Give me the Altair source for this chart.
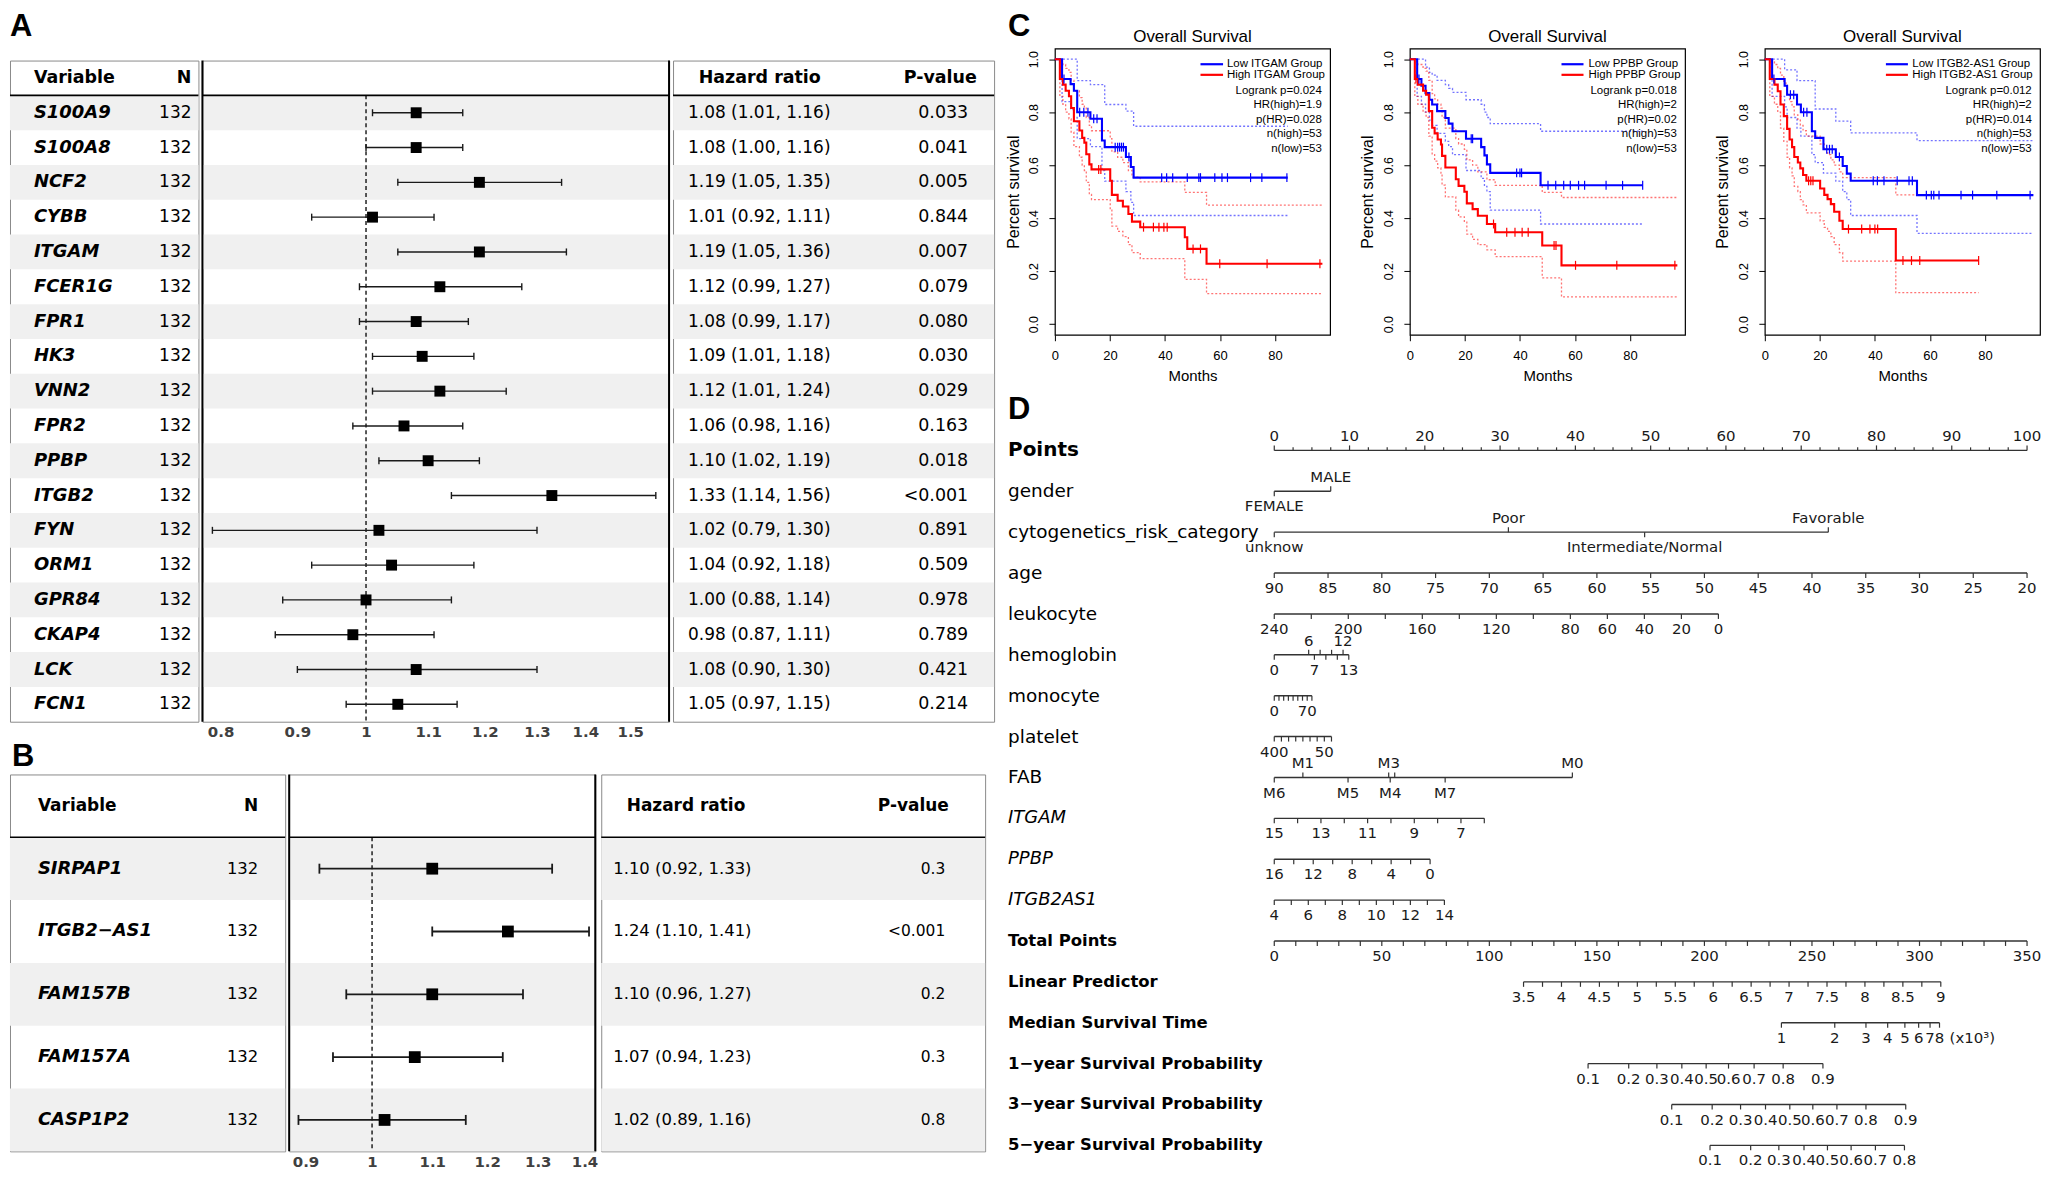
import altair as alt
import pandas as pd

FD = "DejaVu Sans"
FL = "Liberation Sans"

# ====================== Panel A : forest plot ======================
A_GENES = ["S100A9", "S100A8", "NCF2", "CYBB", "ITGAM", "FCER1G", "FPR1", "HK3", "VNN2",
           "FPR2", "PPBP", "ITGB2", "FYN", "ORM1", "GPR84", "CKAP4", "LCK", "FCN1"]
A_N = [132] * 18
A_HR = [1.08, 1.08, 1.19, 1.01, 1.19, 1.12, 1.08, 1.09, 1.12, 1.06, 1.10, 1.33, 1.02, 1.04, 1.00, 0.98, 1.08, 1.05]
A_LO = [1.01, 1.00, 1.05, 0.92, 1.05, 0.99, 0.99, 1.01, 1.01, 0.98, 1.02, 1.14, 0.79, 0.92, 0.88, 0.87, 0.90, 0.97]
A_HI = [1.16, 1.16, 1.35, 1.11, 1.36, 1.27, 1.17, 1.18, 1.24, 1.16, 1.19, 1.56, 1.30, 1.18, 1.14, 1.11, 1.30, 1.15]
A_P = ["0.033", "0.041", "0.005", "0.844", "0.007", "0.079", "0.080", "0.030", "0.029", "0.163",
       "0.018", "<0.001", "0.891", "0.509", "0.978", "0.789", "0.421", "0.214"]
A_TICKS = [0.8, 0.9, 1, 1.1, 1.2, 1.3, 1.4, 1.5]

# ====================== Panel B : forest plot ======================
B_GENES = ["SIRPAP1", "ITGB2\u2212AS1", "FAM157B", "FAM157A", "CASP1P2"]
B_N = [132] * 5
B_HR = [1.10, 1.24, 1.10, 1.07, 1.02]
B_LO = [0.92, 1.10, 0.96, 0.94, 0.89]
B_HI = [1.33, 1.41, 1.27, 1.23, 1.16]
B_P = ["0.3", "<0.001", "0.2", "0.3", "0.8"]
B_TICKS = [0.9, 1, 1.1, 1.2, 1.3, 1.4]

# ====================== Panel C : Kaplan-Meier ======================
# ITGAM
C1_LOW_T = [0, 2.6, 5.7, 6.9, 8.1, 12.9, 17.1, 18.1, 25.8, 27.6, 28.6, 84.6]
C1_LOW_S = [1.0, 0.925, 0.906, 0.881, 0.80, 0.775, 0.693, 0.668, 0.631, 0.593, 0.553, 0.553]
C1_LOW_U = [1.0, 1.0, 1.0, 1.0, 0.919, 0.904, 0.904, 0.829, 0.804, 0.804, 0.747, 0.747]
C1_LOW_L = [1.0, 0.84, 0.81, 0.78, 0.70, 0.67, 0.58, 0.54, 0.50, 0.46, 0.41, 0.41]
C1_LOW_C = [3.3, 9.0, 10.5, 12.0, 14.1, 15.3, 21.9, 22.8, 23.5, 24.2, 24.9, 26.9, 38.8, 40.6, 42.8,
            48.1, 52.3, 52.9, 58.1, 60.7, 62.7, 71.1, 75.2, 84.3]
C1_HIGH_T = [0, 1.8, 2.9, 3.9, 5.1, 5.9, 6.9, 8.9, 9.9, 10.7, 11.4, 12.5, 13.3, 20.1, 20.7, 22.8,
             24.7, 26.7, 28.0, 31.0, 47.2, 48.1, 55.1, 97.2]
C1_HIGH_S = [1.0, 0.925, 0.904, 0.881, 0.86, 0.816, 0.766, 0.731, 0.703, 0.685, 0.641, 0.603, 0.584,
             0.541, 0.488, 0.466, 0.444, 0.416, 0.387, 0.366, 0.328, 0.284, 0.228, 0.228]
C1_HIGH_U = [1.0, 0.99, 0.98, 0.965, 0.95, 0.92, 0.88, 0.855, 0.83, 0.815, 0.78, 0.75, 0.73, 0.70,
             0.65, 0.63, 0.61, 0.58, 0.555, 0.537, 0.497, 0.497, 0.449, 0.449]
C1_HIGH_L = [1.0, 0.86, 0.83, 0.80, 0.775, 0.725, 0.67, 0.63, 0.60, 0.58, 0.535, 0.49, 0.47, 0.43,
             0.37, 0.35, 0.33, 0.30, 0.27, 0.247, 0.169, 0.169, 0.115, 0.115]
C1_HIGH_C = [15.9, 16.7, 32.2, 35.8, 37.8, 39.6, 40.8, 50.2, 52.9, 59.9, 77.1, 96.3]

# PPBP
C2_LOW_T = [0, 2.65, 4.2, 5.7, 7.1, 8.1, 9.9, 12.9, 14.1, 15.5, 20.4, 25.9, 27.1, 28.0, 29.2, 47.5, 84.6]
C2_LOW_S = [1.0, 0.925, 0.90, 0.872, 0.847, 0.829, 0.804, 0.778, 0.757, 0.728, 0.70, 0.668, 0.637,
            0.603, 0.571, 0.524, 0.524]
C2_LOW_U = [1.0, 1.0, 1.0, 0.97, 0.95, 0.94, 0.92, 0.904, 0.89, 0.875, 0.847, 0.83, 0.80, 0.78,
            0.757, 0.728, 0.728]
C2_LOW_L = [1.0, 0.86, 0.83, 0.80, 0.77, 0.75, 0.72, 0.69, 0.67, 0.64, 0.58, 0.55, 0.52, 0.50,
            0.43, 0.378, 0.378]
C2_LOW_C = [3.3, 22.3, 22.8, 38.8, 40.0, 40.6, 50.2, 53.0, 55.9, 58.3, 61.3, 63.5, 71.3, 77.3, 84.6]
C2_HIGH_T = [0, 1.8, 2.9, 4.8, 5.9, 6.9, 8.1, 9.0, 10.1, 11.3, 11.7, 12.9, 16.7, 17.7, 19.8, 20.7,
             22.8, 24.7, 28.0, 31.0, 48.1, 55.1, 97.2]
C2_HIGH_S = [1.0, 0.925, 0.904, 0.881, 0.866, 0.804, 0.741, 0.72, 0.697, 0.678, 0.635, 0.591, 0.547,
             0.522, 0.50, 0.456, 0.434, 0.409, 0.378, 0.347, 0.297, 0.222, 0.222]
C2_HIGH_U = [1.0, 0.99, 0.98, 0.965, 0.955, 0.92, 0.87, 0.85, 0.83, 0.815, 0.78, 0.74, 0.70, 0.68,
             0.66, 0.62, 0.60, 0.575, 0.545, 0.524, 0.497, 0.478, 0.478]
C2_HIGH_L = [1.0, 0.86, 0.83, 0.80, 0.78, 0.71, 0.64, 0.615, 0.59, 0.57, 0.525, 0.48, 0.43, 0.405,
             0.385, 0.34, 0.32, 0.30, 0.28, 0.255, 0.175, 0.103, 0.103]
C2_HIGH_C = [2.2, 30.4, 35.2, 38.2, 40.8, 43.0, 52.4, 53.1, 60.2, 75.2, 96.3]

# ITGB2-AS1
C3_LOW_T = [0, 2.65, 7.2, 8.1, 11.7, 13.1, 17.1, 18.3, 21.3, 25.8, 28.3, 29.8, 31.2, 55.3, 97.6]
C3_LOW_S = [1.0, 0.925, 0.90, 0.866, 0.829, 0.80, 0.728, 0.703, 0.66, 0.631, 0.597, 0.568, 0.541, 0.487, 0.487]
C3_LOW_U = [1.0, 1.0, 0.96, 0.96, 0.919, 0.919, 0.919, 0.812, 0.812, 0.766, 0.766, 0.766, 0.722, 0.693, 0.693]
C3_LOW_L = [1.0, 0.86, 0.82, 0.78, 0.74, 0.71, 0.64, 0.61, 0.57, 0.54, 0.50, 0.47, 0.41, 0.343, 0.343]
C3_LOW_C = [3.3, 9.3, 10.5, 14.1, 15.3, 22.5, 23.5, 24.5, 27.1, 39.4, 40.9, 43.3, 48.1, 52.4, 53.6,
            58.7, 60.5, 61.4, 63.3, 71.3, 75.5, 84.3, 96.4]
C3_HIGH_T = [0, 1.8, 3.5, 4.7, 5.7, 6.9, 8.1, 9.0, 9.9, 10.7, 12.0, 12.9, 13.9, 15.1, 20.1, 21.6,
             22.8, 24.0, 25.2, 27.1, 28.3, 47.6, 77.7]
C3_HIGH_S = [1.0, 0.925, 0.904, 0.879, 0.829, 0.785, 0.737, 0.697, 0.668, 0.631, 0.61, 0.588, 0.563,
             0.541, 0.512, 0.488, 0.472, 0.453, 0.424, 0.39, 0.359, 0.24, 0.24]
C3_HIGH_U = [1.0, 0.99, 0.98, 0.965, 0.94, 0.91, 0.87, 0.84, 0.82, 0.79, 0.77, 0.75, 0.73, 0.71,
             0.68, 0.66, 0.64, 0.62, 0.60, 0.575, 0.553, 0.488, 0.488]
C3_HIGH_L = [1.0, 0.86, 0.83, 0.80, 0.74, 0.69, 0.63, 0.59, 0.56, 0.52, 0.50, 0.47, 0.45, 0.42,
             0.39, 0.365, 0.35, 0.33, 0.30, 0.27, 0.238, 0.119, 0.119]
C3_HIGH_C = [15.9, 16.7, 17.5, 30.4, 35.2, 38.2, 40.0, 41.0, 50.2, 53.3, 56.3, 77.7]

KM_LABELS = [["Low ITGAM Group", "High ITGAM Group"],
             ["Low PPBP Group", "High PPBP Group"],
             ["Low ITGB2-AS1 Group", "High ITGB2-AS1 Group"]]
KM_STATS = [["Logrank p=0.024", "HR(high)=1.9", "p(HR)=0.028", "n(high)=53", "n(low)=53"],
            ["Logrank p=0.018", "HR(high)=2", "p(HR)=0.02", "n(high)=53", "n(low)=53"],
            ["Logrank p=0.012", "HR(high)=2", "p(HR)=0.014", "n(high)=53", "n(low)=53"]]
KM_LEG = [(52.9, 61.1, 62.5), (55.1, 63.1, 64.9), (44.0, 52.0, 53.6)]   # legend line start/end, text start (months)
KM_LEG_Y = [0.981, 0.941]
KM_STAT_Y = [0.881, 0.826, 0.771, 0.716, 0.66]

# ====================== Panel D : nomogram ======================
NOMO_ROWS = ["Points", "gender", "cytogenetics_risk_category", "age", "leukocyte", "hemoglobin",
             "monocyte", "platelet", "FAB", "ITGAM", "PPBP", "ITGB2AS1", "Total Points",
             "Linear Predictor", "Median Survival Time", "1\u2212year Survival Probability",
             "3\u2212year Survival Probability", "5\u2212year Survival Probability"]
NOMO_BOLD = ["Total Points", "Linear Predictor", "Median Survival Time", "1\u2212year Survival Probability",
             "3\u2212year Survival Probability", "5\u2212year Survival Probability"]
NOMO_ITALIC = ["ITGAM", "PPBP", "ITGB2AS1"]

POINTS_VALUES = [i * 2.5 for i in range(41)]
GENDER_LEVELS = ["FEMALE", "MALE"]
GENDER_PTS = [0, 7.5]
GENDER_SIDE = ["down", "up"]
CYTO_LEVELS = ["unknow", "Poor", "Intermediate/Normal", "Favorable"]
CYTO_PTS = [0, 31.1, 49.2, 73.6]
CYTO_SIDE = ["down", "up", "down", "up"]
AGE_VALUES = [90, 85, 80, 75, 70, 65, 60, 55, 50, 45, 40, 35, 30, 25, 20]
LEUKO_VALUES = [240, 220, 200, 180, 160, 140, 120, 100, 80, 60, 40, 20, 0]
LEUKO_LABELED = [240, 200, 160, 120, 80, 60, 40, 20, 0]
LEUKO_END = 59.0
HEMO_VALUES = [0, 6, 7, 8, 9, 10, 11, 12, 13]
HEMO_SIDE = ["down", "up", "down", "up", "down", "up", "down", "up", "down"]
HEMO_LABELED = [0, 6, 7, 12, 13]
HEMO_END = 9.9
MONO_VALUES = [0, 10, 20, 30, 40, 50, 60, 70, 80]
MONO_LABELED = [0, 70]
MONO_END = 5.0
PLT_VALUES = [400, 350, 300, 250, 200, 150, 100, 50, 0]
PLT_LABELED = [400, 50]
PLT_END = 7.6
FAB_LEVELS = ["M6", "M1", "M5", "M3", "M4", "M2", "M7", "M0"]
FAB_PTS = [0, 3.8, 9.8, 15.2, 15.4, 16.0, 22.7, 39.6]
FAB_SIDE = ["down", "up", "down", "up", "down", "up", "down", "up"]
FAB_SHOWN = ["M6", "M1", "M5", "M3", "M4", "M7", "M0"]
ITGAM_VALUES = [15, 14, 13, 12, 11, 10, 9, 8, 7, 6]
ITGAM_LABELED = [15, 13, 11, 9, 7]
ITGAM_END = 27.9
PPBP_VALUES = [16, 14, 12, 10, 8, 6, 4, 2, 0]
PPBP_LABELED = [16, 12, 8, 4, 0]
PPBP_END = 20.7
ITGB2AS1_VALUES = [4, 5, 6, 7, 8, 9, 10, 11, 12, 13, 14]
ITGB2AS1_LABELED = [4, 6, 8, 10, 12, 14]
ITGB2AS1_END = 22.6
TOTAL_VALUES = list(range(0, 351, 10))
LP_VALUES = [3.5 + 0.25 * k for k in range(23)]
LP_TOTAL_START, LP_TOTAL_END = 115.9, 309.9
MST_VALUES = [1, 2, 3, 4, 5, 6, 7, 8]
MST_TOTAL = [235.8, 260.6, 275.1, 285.2, 293.2, 299.6, 304.9, 309.3]
MST_UNIT_TOTAL = 314.0
S1_VALUES = [0.1, 0.2, 0.3, 0.4, 0.5, 0.6, 0.7, 0.8, 0.9]
S1_TOTAL = [145.9, 164.8, 177.9, 189.5, 200.8, 211.2, 223.1, 236.6, 255.1]
S3_VALUES = [0.1, 0.2, 0.3, 0.4, 0.5, 0.6, 0.7, 0.8, 0.9]
S3_TOTAL = [184.8, 203.6, 216.8, 228.4, 239.7, 250.4, 261.6, 275.1, 293.6]
S5_VALUES = [0.1, 0.2, 0.3, 0.4, 0.5, 0.6, 0.7, 0.8]
S5_TOTAL = [202.6, 221.5, 234.6, 246.3, 257.2, 268.2, 279.5, 293.0]


# ------------------------------------------------------------------
def letter_layer(letter, x, y):
    return alt.Chart(pd.DataFrame({"t": [letter]})).mark_text(
        align="left", baseline="alphabetic", font=FL, fontSize=31, fontWeight="bold", color="black"
    ).encode(text="t:N", x=alt.value(x), y=alt.value(y))


def forest(letter, genes, nvals, hr, lo, hi, pvals, ticks, st):
    w1, w2, w3 = st["widths"]
    band = st["band"]
    rows = ["hdr"] + genes
    H = band * len(rows)
    df = pd.DataFrame({
        "row": genes,
        "n": [str(v) for v in nvals],
        "hr": hr, "lo": lo, "hi": hi,
        "hrtxt": [f"{a:.2f} ({b:.2f}, {c:.2f})" for a, b, c in zip(hr, lo, hi)],
        "p": pvals,
        "stripe": [i % 2 == 0 for i in range(len(genes))],
    })
    hdr = pd.DataFrame({"row": ["hdr"], "var": ["Variable"], "n": ["N"],
                        "hrh": ["Hazard ratio"], "ph": ["P-value"]})
    ysc = alt.Scale(type="band", domain=rows, paddingInner=0, paddingOuter=0)
    Y = alt.Y("row:N", scale=ysc, axis=None)
    view = alt.ViewBackground(stroke="#8a8a8a", strokeWidth=1)

    def stripes(w):
        return alt.Chart(df).transform_filter("datum.stripe").mark_rect(color="#f0f0f0").encode(
            y=Y, x=alt.value(0), x2=alt.value(w))

    def hline(w):
        return alt.Chart(hdr).mark_rule(color="black", strokeWidth=1.6).encode(
            x=alt.value(0), x2=alt.value(w), y=alt.value(band))

    def txt(data, field, x, align, size, weight="normal", style="normal"):
        return alt.Chart(data).mark_text(
            align=align, baseline="middle", font=FD, fontSize=size, fontWeight=weight,
            fontStyle=style, color="black"
        ).encode(y=Y, x=alt.value(x), text=f"{field}:N")

    left_layers = [
        stripes(w1), hline(w1),
        txt(df, "row", st["x_var"], "left", st["fs_gene"], "bold", "italic"),
        txt(df, "n", st["x_n"], "right", st["fs_n"]),
        txt(hdr, "var", st["x_var"], "left", st["fs_h"], "bold"),
        txt(hdr, "n", st["x_n"], "right", st["fs_h"], "bold"),
    ]
    if letter:
        left_layers.append(letter_layer(letter, st["lx"], st["ly"]))
    left = alt.layer(*left_layers).properties(width=w1, height=H, view=view)

    xsc = alt.Scale(type="log", domain=st["domain"], nice=False)
    xax = alt.Axis(values=ticks, format="~g", ticks=False, domain=False, grid=False,
                   labelFont=FD, labelFontWeight="bold", labelFontSize=st["fs_ax"],
                   labelColor="#404040", labelPadding=st["lab_pad"], labelFlush=False,
                   labelOverlap=False, title=None)

    def X(f):
        return alt.X(f, scale=xsc, axis=xax)

    def vline(x):
        return alt.Chart(hdr).mark_rule(color="black", strokeWidth=2).encode(
            x=alt.value(x), y=alt.value(0), y2=alt.value(H))

    mid = alt.layer(
        stripes(w2), hline(w2),
        alt.Chart(hdr).mark_rule(color="black", strokeWidth=1.3, strokeDash=[4, 3]).encode(
            x=alt.XDatum(1, scale=xsc, axis=xax, type="quantitative"),
            y=alt.value(band), y2=alt.value(H)),
        alt.Chart(df).mark_rule(color="#1a1a1a", strokeWidth=st["lw"]).encode(
            x=X("lo:Q"), x2="hi:Q", y=Y),
        alt.Chart(df).transform_fold(["lo", "hi"], as_=["k", "v"]).mark_tick(
            color="#1a1a1a", thickness=st["lw"], size=st["cap"], orient="vertical", opacity=1
        ).encode(x=X("v:Q"), y=Y),
        alt.Chart(df).mark_square(color="black", opacity=1, size=st["sq"]).encode(x=X("hr:Q"), y=Y),
        vline(0), vline(w2),
    ).properties(width=w2, height=H, view=view)

    right = alt.layer(
        stripes(w3), hline(w3),
        txt(df, "hrtxt", st["x_hr"], "left", st["fs_hr"]),
        txt(df, "p", st["x_p"], "right", st["fs_p"]),
        txt(hdr, "hrh", st["x_hrh"], "center", st["fs_h"], "bold"),
        txt(hdr, "ph", st["x_ph"], "center", st["fs_h"], "bold"),
    ).properties(width=w3, height=H, view=view)

    return alt.hconcat(left, mid, right, spacing=0)


def step_value(times, surv, t):
    v = surv[0]
    for ti, si in zip(times, surv):
        if ti <= t:
            v = si
    return v


def km_panel(groups, labels, stats, leg, show_letter):
    lines, ci, cens = [], [], []
    for g, (T, S, U, L, C) in zip(["Low", "High"], groups):
        lines += [{"t": t, "s": s, "g": g} for t, s in zip(T, S)]
        ci += [{"t": t, "s": u, "g": g, "k": g + "u"} for t, u in zip(T, U)]
        ci += [{"t": t, "s": l, "g": g, "k": g + "l"} for t, l in zip(T, L)]
        cens += [{"t": t, "s": step_value(T, S, t), "g": g} for t in C]
    x1, x2, xt = leg
    legdf = pd.DataFrame({"x1": [x1, x1], "x2": [x2, x2], "xt": [xt, xt], "y": KM_LEG_Y,
                          "g": ["Low", "High"], "txt": labels})
    statdf = pd.DataFrame({"y": KM_STAT_Y, "txt": stats})

    W, Hh = 276, 287
    xsc = alt.Scale(domain=[0, 100], nice=False, zero=False)
    ysc = alt.Scale(domain=[-0.04, 1.04], nice=False, zero=False)
    xax = alt.Axis(values=[0, 20, 40, 60, 80], title="Months", grid=False, domain=False,
                   tickSize=6, tickColor="black", labelColor="black", titleColor="black",
                   labelFont=FL, labelFontSize=13, labelPadding=9, labelFlush=False,
                   titleFont=FL, titleFontSize=15, titleFontWeight="normal", titlePadding=6,
                   labelOverlap=False)
    yax = alt.Axis(values=[0, 0.2, 0.4, 0.6, 0.8, 1.0], format=".1f", title="Percent survival",
                   grid=False, domain=False, tickSize=6, tickColor="black", labelColor="black",
                   titleColor="black", labelFont=FL, labelFontSize=12.5, labelAngle=270,
                   labelAlign="center", labelBaseline="bottom", labelPadding=8, labelFlush=False,
                   titleFont=FL, titleFontSize=16, titleFontWeight="normal", titlePadding=7,
                   labelOverlap=False)

    def X(f):
        return alt.X(f, scale=xsc, axis=xax)

    def Y(f):
        return alt.Y(f, scale=ysc, axis=yax)

    col = alt.Color("g:N", scale=alt.Scale(domain=["Low", "High"], range=["#0000ff", "#ff0000"]),
                    legend=None)

    layers = [
        alt.Chart(pd.DataFrame(ci)).mark_line(
            interpolate="step-after", strokeWidth=1.3, strokeDash=[2, 2], opacity=0.55
        ).encode(x=X("t:Q"), y=Y("s:Q"), color=col, detail="k:N"),
        alt.Chart(pd.DataFrame(lines)).mark_line(interpolate="step-after", strokeWidth=2.1).encode(
            x=X("t:Q"), y=Y("s:Q"), color=col, detail="g:N"),
        alt.Chart(pd.DataFrame(cens)).mark_tick(orient="vertical", size=9, thickness=1.2, opacity=1).encode(
            x=X("t:Q"), y=Y("s:Q"), color=col),
        alt.Chart(legdf).mark_rule(strokeWidth=2.2).encode(
            x=X("x1:Q"), x2="x2:Q", y=Y("y:Q"), color=col),
        alt.Chart(legdf).mark_text(align="left", baseline="middle", font=FL, fontSize=11.5,
                                   color="black").encode(x=X("xt:Q"), y=Y("y:Q"), text="txt:N"),
        alt.Chart(statdf).mark_text(align="right", baseline="middle", font=FL, fontSize=11.5,
                                    color="black").encode(
            x=alt.XDatum(97.0, scale=xsc, axis=xax, type="quantitative"), y=Y("y:Q"), text="txt:N"),
        alt.Chart(pd.DataFrame({"t": ["Overall Survival"]})).mark_text(
            align="center", baseline="middle", font=FL, fontSize=17, color="black"
        ).encode(text="t:N", x=alt.value(W / 2), y=alt.value(-12)),
    ]
    if show_letter:
        layers.append(letter_layer("C", -47, -13))
    return alt.layer(*layers).properties(
        width=W, height=Hh, view=alt.ViewBackground(stroke="black", strokeWidth=1.2))


def lin(v, v0, v1, p0, p1):
    return p0 + (v - v0) / (v1 - v0) * (p1 - p0)


def fmt(v):
    return f"{v:g}"


def nomogram():
    ridx = {r: i for i, r in enumerate(NOMO_ROWS)}
    ticks = []

    def add(r, pos, lab, side, minor=False):
        ticks.append({"row": ridx[r], "pos": pos, "lab": lab, "side": side, "minor": minor})

    for v in POINTS_VALUES:
        add("Points", v, fmt(v) if v % 10 == 0 else "", "up", v % 10 != 0)
    for lv, p, s in zip(GENDER_LEVELS, GENDER_PTS, GENDER_SIDE):
        add("gender", p, lv, s)
    for lv, p, s in zip(CYTO_LEVELS, CYTO_PTS, CYTO_SIDE):
        add("cytogenetics_risk_category", p, lv, s)
    for v in AGE_VALUES:
        add("age", lin(v, 90, 20, 0, 100), fmt(v), "down")
    for v in LEUKO_VALUES:
        add("leukocyte", lin(v, 240, 0, 0, LEUKO_END), fmt(v) if v in LEUKO_LABELED else "", "down")
    for v, s in zip(HEMO_VALUES, HEMO_SIDE):
        add("hemoglobin", lin(v, 0, 13, 0, HEMO_END), fmt(v) if v in HEMO_LABELED else "", s)
    for v in MONO_VALUES:
        add("monocyte", lin(v, 0, 80, 0, MONO_END), fmt(v) if v in MONO_LABELED else "", "down")
    for v in PLT_VALUES:
        add("platelet", lin(v, 400, 0, 0, PLT_END), fmt(v) if v in PLT_LABELED else "", "down")
    for lv, p, s in zip(FAB_LEVELS, FAB_PTS, FAB_SIDE):
        add("FAB", p, lv if lv in FAB_SHOWN else "", s)
    for v in ITGAM_VALUES:
        add("ITGAM", lin(v, 15, 6, 0, ITGAM_END), fmt(v) if v in ITGAM_LABELED else "", "down")
    for v in PPBP_VALUES:
        add("PPBP", lin(v, 16, 0, 0, PPBP_END), fmt(v) if v in PPBP_LABELED else "", "down")
    for v in ITGB2AS1_VALUES:
        add("ITGB2AS1", lin(v, 4, 14, 0, ITGB2AS1_END), fmt(v) if v in ITGB2AS1_LABELED else "", "down")
    for v in TOTAL_VALUES:
        add("Total Points", v / 3.5, fmt(v) if v % 50 == 0 else "", "down")
    for v in LP_VALUES:
        add("Linear Predictor", lin(v, 3.5, 9, LP_TOTAL_START, LP_TOTAL_END) / 3.5,
            fmt(v) if (v * 2) % 1 == 0 else "", "down")
    for v, p in zip(MST_VALUES, MST_TOTAL):
        add("Median Survival Time", p / 3.5, fmt(v), "down")
    for v, p in zip(S1_VALUES, S1_TOTAL):
        add("1\u2212year Survival Probability", p / 3.5, fmt(v), "down")
    for v, p in zip(S3_VALUES, S3_TOTAL):
        add("3\u2212year Survival Probability", p / 3.5, fmt(v), "down")
    for v, p in zip(S5_VALUES, S5_TOTAL):
        add("5\u2212year Survival Probability", p / 3.5, fmt(v), "down")

    tdf = pd.DataFrame(ticks)
    sgn = tdf["side"].map({"up": -1, "down": 1})
    tdf["y1"] = tdf["row"]
    tdf["y2"] = tdf["row"] + sgn * tdf["minor"].map({True: 0.075, False: 0.122})
    tdf["ylab"] = tdf["row"] + tdf["side"].map({"up": -0.345, "down": 0.37})
    ldf = tdf.groupby("row").agg(lo=("pos", "min"), hi=("pos", "max")).reset_index()
    unit = pd.DataFrame({"pos": [MST_UNIT_TOTAL / 3.5],
                         "ylab": [ridx["Median Survival Time"] + 0.37], "lab": ["(x10\u00b3)"]})
    rdf = pd.DataFrame({"row": list(range(len(NOMO_ROWS))), "name": NOMO_ROWS})
    rdf["style"] = ["big" if n == "Points" else "bold" if n in NOMO_BOLD
                    else "italic" if n in NOMO_ITALIC else "plain" for n in NOMO_ROWS]

    row_px = 41.0
    W, Hh = 975, 738
    xmin = -29.14
    d0 = -0.6585
    d1 = d0 + Hh / row_px
    xsc = alt.Scale(domain=[xmin, 100], nice=False, zero=False)
    ysc = alt.Scale(domain=[d0, d1], reverse=True, nice=False, zero=False)

    def X(f):
        return alt.X(f, scale=xsc, axis=None)

    def Y(f):
        return alt.Y(f, scale=ysc, axis=None)

    def rowlab(style, size, weight, fstyle):
        return alt.Chart(rdf).transform_filter(f"datum.style == '{style}'").mark_text(
            align="left", baseline="middle", font=FD, fontSize=size, fontWeight=weight,
            fontStyle=fstyle, color="black"
        ).encode(x=alt.value(-47), y=Y("row:Q"), text="name:N")

    layers = [
        alt.Chart(ldf).mark_rule(color="#333333", strokeWidth=1.4).encode(
            x=X("lo:Q"), x2="hi:Q", y=Y("row:Q")),
        alt.Chart(tdf).mark_rule(color="#333333", strokeWidth=1.2).encode(
            x=X("pos:Q"), y=Y("y1:Q"), y2="y2:Q"),
        alt.Chart(tdf).transform_filter("datum.lab != ''").mark_text(
            align="center", baseline="middle", font=FD, fontSize=15, color="#1a1a1a"
        ).encode(x=X("pos:Q"), y=Y("ylab:Q"), text="lab:N"),
        alt.Chart(unit).mark_text(align="left", baseline="middle", font=FD, fontSize=15,
                                  color="#1a1a1a").encode(x=X("pos:Q"), y=Y("ylab:Q"), text="lab:N"),
        rowlab("big", 20, "bold", "normal"),
        rowlab("bold", 16.5, "bold", "normal"),
        rowlab("italic", 18, "normal", "italic"),
        rowlab("plain", 18.5, "normal", "normal"),
        letter_layer("D", -47, -5),
    ]
    return alt.layer(*layers).properties(width=W, height=Hh)


# ------------------------------------------------------------------
ST_A = dict(widths=(189, 468, 322), band=34.9, domain=[0.778, 1.592], fs_ax=15, lab_pad=3,
            lw=1.4, cap=7, sq=120, x_var=24, x_n=182, fs_gene=18, fs_n=17, fs_h=17.5,
            fs_hr=17, fs_p=17.5, x_hr=15, x_p=296, x_hrh=87, x_ph=268, lx=0, ly=-23)
ST_B = dict(widths=(276, 307, 385), band=63, domain=[0.877, 1.424], fs_ax=15, lab_pad=3,
            lw=1.8, cap=10, sq=140, x_var=28, x_n=249, fs_gene=18, fs_n=16.5, fs_h=17,
            fs_hr=16.5, fs_p=15.5, x_hr=12, x_p=345, x_hrh=85, x_ph=313, lx=2, ly=-8)

panel_a = forest(None, A_GENES, A_N, A_HR, A_LO, A_HI, A_P, A_TICKS, ST_A)
panel_b = forest("B", B_GENES, B_N, B_HR, B_LO, B_HI, B_P, B_TICKS, ST_B)
letter_a = alt.Chart(pd.DataFrame({"t": ["A"]})).mark_text(
    align="left", baseline="alphabetic", font=FL, fontSize=31, fontWeight="bold", color="black"
).encode(text="t:N", x=alt.value(0), y=alt.value(-13)).properties(width=1, height=1)

km1 = km_panel([(C1_LOW_T, C1_LOW_S, C1_LOW_U, C1_LOW_L, C1_LOW_C),
                (C1_HIGH_T, C1_HIGH_S, C1_HIGH_U, C1_HIGH_L, C1_HIGH_C)],
               KM_LABELS[0], KM_STATS[0], KM_LEG[0], True)
km2 = km_panel([(C2_LOW_T, C2_LOW_S, C2_LOW_U, C2_LOW_L, C2_LOW_C),
                (C2_HIGH_T, C2_HIGH_S, C2_HIGH_U, C2_HIGH_L, C2_HIGH_C)],
               KM_LABELS[1], KM_STATS[1], KM_LEG[1], False)
km3 = km_panel([(C3_LOW_T, C3_LOW_S, C3_LOW_U, C3_LOW_L, C3_LOW_C),
                (C3_HIGH_T, C3_HIGH_S, C3_HIGH_U, C3_HIGH_L, C3_HIGH_C)],
               KM_LABELS[2], KM_STATS[2], KM_LEG[2], False)
panel_c = alt.hconcat(km1, km2, km3, spacing=28)
panel_d = nomogram()

left_col = alt.vconcat(letter_a, alt.vconcat(panel_a, panel_b, spacing=0), spacing=8)
right_col = alt.vconcat(panel_c, panel_d, spacing=8)

chart = alt.hconcat(left_col, right_col, spacing=8).properties(
    padding=0, background="white"
).configure_view(stroke="transparent")

chart.save("out.html", embed_options={"renderer": "svg", "actions": False})
